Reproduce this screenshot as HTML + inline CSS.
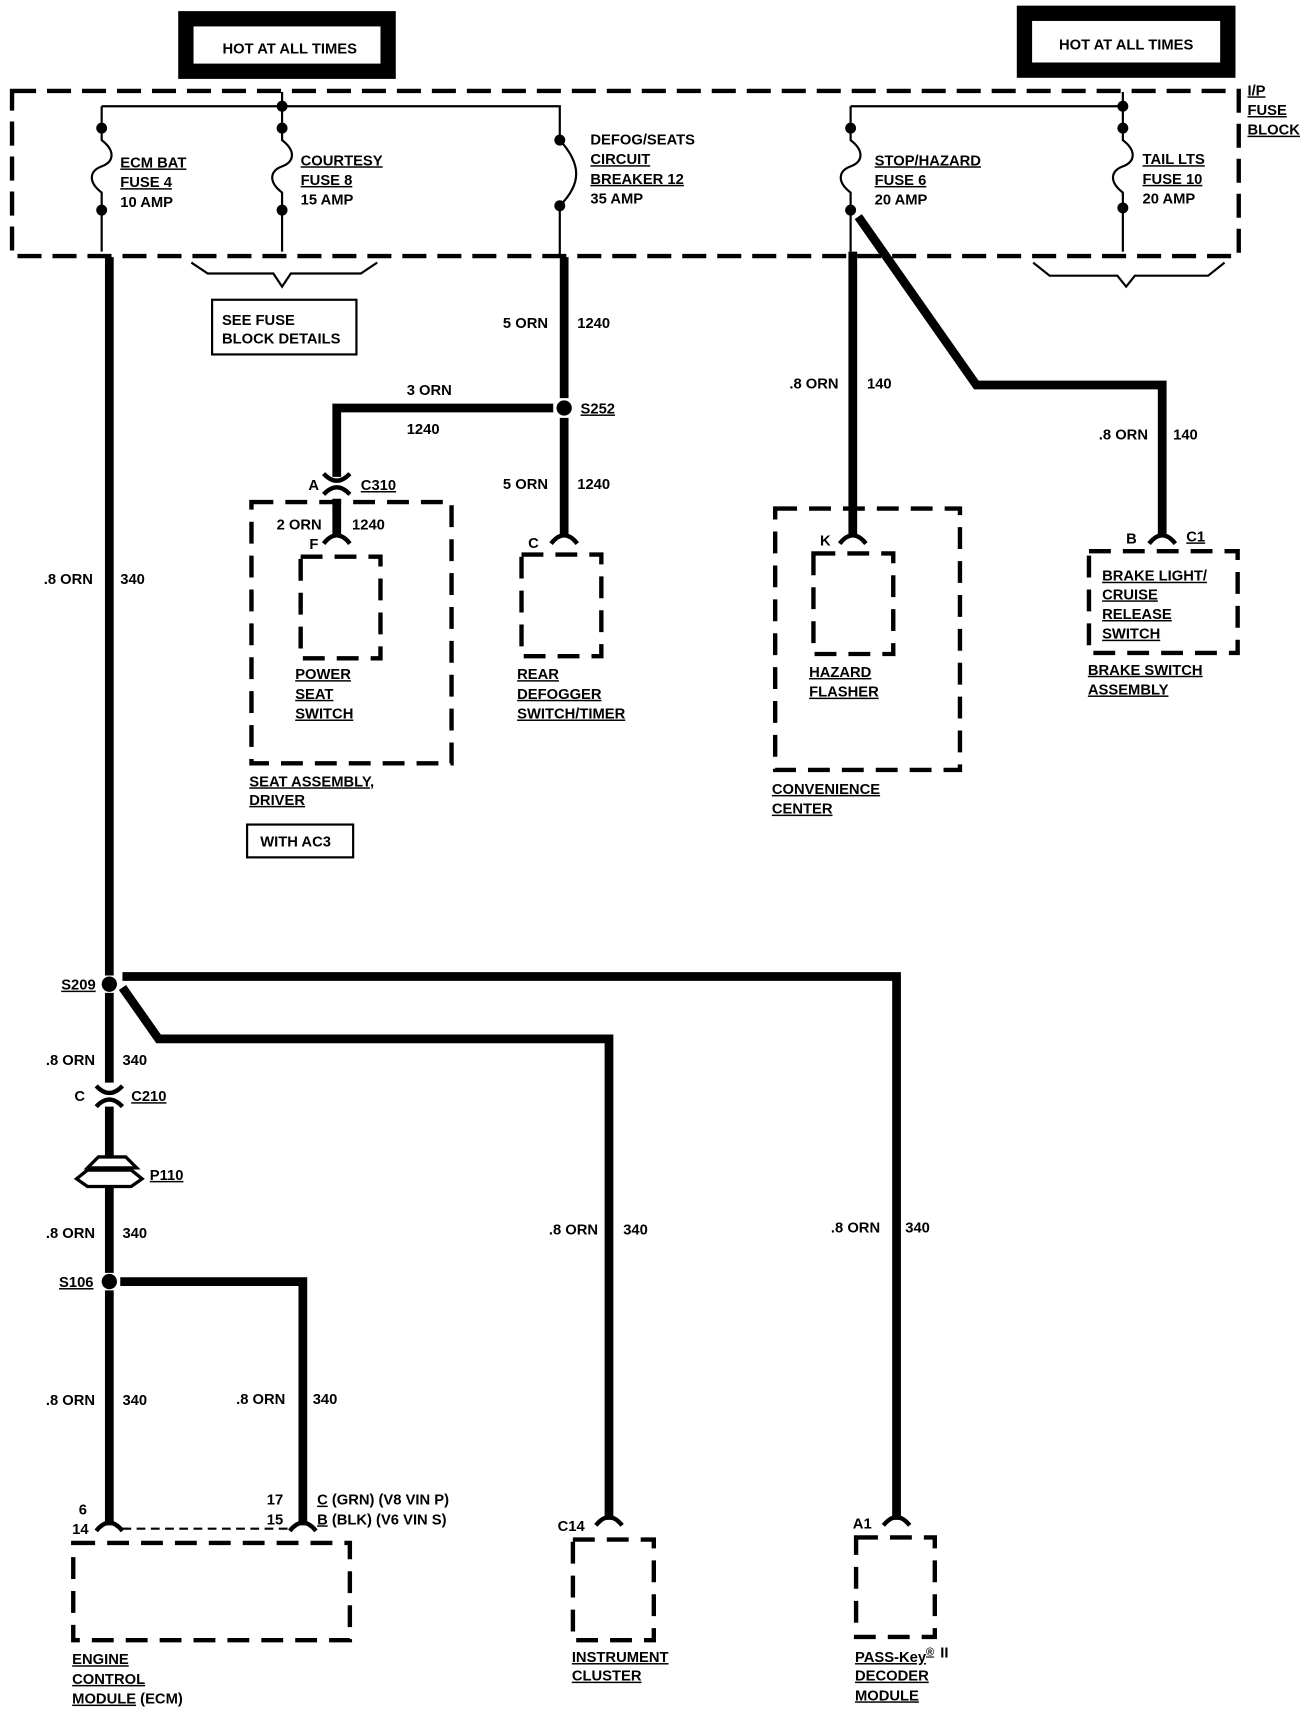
<!DOCTYPE html>
<html><head><meta charset="utf-8"><style>
html,body{margin:0;padding:0;background:#fff;}
svg{display:block;}
text{font-family:"Liberation Sans",sans-serif;font-weight:bold;font-size:13.5px;fill:#000;}
.u{text-decoration:underline;}
</style></head><body>
<svg width="1312" height="1718" viewBox="0 0 1200 1571" xmlns="http://www.w3.org/2000/svg">
<g fill="none" stroke="#000">
<!-- HOT boxes -->
<rect x="170" y="17" width="185" height="48" stroke-width="14"/>
<rect x="937" y="12" width="186" height="52" stroke-width="14"/>
<!-- fuse block dashed -->
<rect x="11" y="83" width="1122" height="151" stroke-width="4" stroke-dasharray="22,10"/>
<!-- buses -->
<path d="M93 97 H512 V128 M512 188 V235" stroke-width="2"/>
<path d="M778 97 H1027" stroke-width="2"/>
<path d="M258 84 V97 M1027 84 V97" stroke-width="2"/>
<!-- fuses -->
<g stroke-width="2">
<path d="M93 97 V128 C106 138,104 148,93 152 C82 156,80 166,93 176 V230"/>
<path d="M258 97 V128 C271 138,269 148,258 152 C247 156,245 166,258 176 V230"/>
<path d="M778 97 V128 C791 138,789 148,778 152 C767 156,765 166,778 176 V230"/>
<path d="M1027 97 V128 C1040 138,1038 148,1027 152 C1016 156,1014 166,1027 176 V230"/>
<path d="M512 128 C532 150,532 168,512 188"/>
<!-- braces -->
<path d="M175 240 L190 250 H250 L258 262 L266 250 H330 L345 240"/>
<path d="M945 240 L960 252 H1022 L1030 262 L1038 252 H1105 L1120 240"/>
</g>
<rect x="194" y="274" width="132" height="50" stroke-width="2"/>
<rect x="226" y="754" width="97" height="30" stroke-width="2"/>
<!-- thick wires -->
<g stroke-width="8" stroke-linejoin="miter">
<path d="M100 235 V892"/>
<path d="M516 235 V364 M516 382 V490"/>
<path d="M506 373 H308 V436"/>
<path d="M308 456 V490"/>
<path d="M780 230 V490"/>
<path d="M785 198 L893 352 H1063 V490"/>
<path d="M112 893 H820 V1390"/>
<path d="M112 903 L145 950 H557 V1390"/>
<path d="M100 908 V990 M100 1012 V1164 M100 1180 V1395"/>
<path d="M110 1172 H277 V1395"/>
</g>
<!-- connector forks -->
<g stroke-width="4">
<path d="M88 1400 Q100 1385 112 1400"/>
<path d="M265 1400 Q277 1385 289 1400"/>
<path d="M545 1395 Q557 1380 569 1395"/>
<path d="M808 1395 Q820 1380 832 1395"/>
<path d="M504 497 Q516 482 528 497"/>
<path d="M768 497 Q780 482 792 497"/>
<path d="M1051 497 Q1063 482 1075 497"/>
<path d="M296 497 Q308 482 320 497"/>
<path d="M296 433 Q308 446 320 433 M296 452 Q308 439 320 452"/>
<path d="M88 993 Q100 1006 112 993 M88 1012 Q100 999 112 1012"/>
</g>
<path d="M112 1398 H265" stroke-width="2" stroke-dasharray="8,5"/>
<!-- P110 -->
<path d="M80 1068 L90 1058 H115 L125 1068 Z M70 1078 L80 1070 H120 L130 1078 L120 1085 H80 Z" stroke-width="3" fill="#fff"/>
<!-- component dashed boxes -->
<g stroke-width="4" stroke-dasharray="20,11">
<rect x="230" y="459" width="183" height="239"/>
<rect x="275" y="509" width="73" height="93"/>
<rect x="477" y="507" width="73" height="93"/>
<rect x="709" y="465" width="169" height="239"/>
<rect x="744" y="506" width="73" height="92"/>
<rect x="996" y="504" width="136" height="93"/>
<rect x="67" y="1411" width="253" height="89"/>
<rect x="524" y="1408" width="74" height="92"/>
<rect x="783" y="1406" width="72" height="91"/>
</g>
</g>
<!-- dots -->
<g fill="#000">
<circle cx="93" cy="117" r="5"/><circle cx="93" cy="192" r="5"/>
<circle cx="258" cy="97" r="5"/><circle cx="258" cy="117" r="5"/><circle cx="258" cy="192" r="5"/>
<circle cx="512" cy="128" r="5"/><circle cx="512" cy="188" r="5"/>
<circle cx="778" cy="117" r="5"/><circle cx="778" cy="192" r="5"/>
<circle cx="1027" cy="97" r="5"/><circle cx="1027" cy="117" r="5"/><circle cx="1027" cy="190" r="5"/>
<circle cx="516" cy="373" r="7"/>
<circle cx="100" cy="900" r="7"/>
<circle cx="100" cy="1172" r="7"/>
</g>
<!-- text -->
<text x="265" y="49" text-anchor="middle">HOT AT ALL TIMES</text>
<text x="1030" y="45" text-anchor="middle">HOT AT ALL TIMES</text>
<text x="110" y="153" class="u">ECM BAT</text><text x="110" y="171" class="u">FUSE 4</text><text x="110" y="189">10 AMP</text>
<text x="275" y="151" class="u">COURTESY</text><text x="275" y="169" class="u">FUSE 8</text><text x="275" y="187">15 AMP</text>
<text x="540" y="132">DEFOG/SEATS</text><text x="540" y="150" class="u">CIRCUIT</text><text x="540" y="168" class="u">BREAKER 12</text><text x="540" y="186">35 AMP</text>
<text x="800" y="151" class="u">STOP/HAZARD</text><text x="800" y="169" class="u">FUSE 6</text><text x="800" y="187">20 AMP</text>
<text x="1045" y="150" class="u">TAIL LTS</text><text x="1045" y="168" class="u">FUSE 10</text><text x="1045" y="186">20 AMP</text>
<text x="1141" y="87" class="u">I/P</text><text x="1141" y="105" class="u">FUSE</text><text x="1141" y="123" class="u">BLOCK</text>
<text x="203" y="297">SEE FUSE</text><text x="203" y="314">BLOCK DETAILS</text>
<text x="460" y="300">5 ORN</text><text x="528" y="300">1240</text>
<text x="372" y="361">3 ORN</text><text x="372" y="397">1240</text>
<text x="531" y="378" class="u">S252</text>
<text x="460" y="447">5 ORN</text><text x="528" y="447">1240</text>
<text x="282" y="448">A</text><text x="330" y="448" class="u">C310</text>
<text x="253" y="484">2 ORN</text><text x="322" y="484">1240</text>
<text x="283" y="502">F</text><text x="483" y="501">C</text>
<text x="270" y="621" class="u">POWER</text><text x="270" y="639" class="u">SEAT</text><text x="270" y="657" class="u">SWITCH</text>
<text x="473" y="621" class="u">REAR</text><text x="473" y="639" class="u">DEFOGGER</text><text x="473" y="657" class="u">SWITCH/TIMER</text>
<text x="228" y="719" class="u">SEAT ASSEMBLY,</text><text x="228" y="736" class="u">DRIVER</text>
<text x="238" y="774">WITH AC3</text>
<text x="722" y="355">.8 ORN</text><text x="793" y="355">140</text>
<text x="1005" y="402">.8 ORN</text><text x="1073" y="402">140</text>
<text x="750" y="499">K</text><text x="1030" y="497">B</text><text x="1085" y="495" class="u">C1</text>
<text x="740" y="619" class="u">HAZARD</text><text x="740" y="637" class="u">FLASHER</text>
<text x="1008" y="531" class="u">BRAKE LIGHT/</text><text x="1008" y="548" class="u">CRUISE</text><text x="1008" y="566" class="u">RELEASE</text><text x="1008" y="584" class="u">SWITCH</text>
<text x="995" y="617" class="u">BRAKE SWITCH</text><text x="995" y="635" class="u">ASSEMBLY</text>
<text x="706" y="726" class="u">CONVENIENCE</text><text x="706" y="744" class="u">CENTER</text>
<text x="40" y="534">.8 ORN</text><text x="110" y="534">340</text>
<text x="56" y="905" class="u">S209</text>
<text x="42" y="974">.8 ORN</text><text x="112" y="974">340</text>
<text x="68" y="1007">C</text><text x="120" y="1007" class="u">C210</text>
<text x="137" y="1079" class="u">P110</text>
<text x="42" y="1132">.8 ORN</text><text x="112" y="1132">340</text>
<text x="54" y="1177" class="u">S106</text>
<text x="42" y="1285">.8 ORN</text><text x="112" y="1285">340</text>
<text x="216" y="1284">.8 ORN</text><text x="286" y="1284">340</text>
<text x="502" y="1129">.8 ORN</text><text x="570" y="1129">340</text>
<text x="760" y="1127">.8 ORN</text><text x="828" y="1127">340</text>
<text x="72" y="1385">6</text><text x="66" y="1403">14</text>
<text x="244" y="1376">17</text><text x="244" y="1394">15</text>
<text x="290" y="1376"><tspan class="u">C</tspan> (GRN) (V8  VIN P)</text>
<text x="290" y="1394"><tspan class="u">B</tspan> (BLK) (V6  VIN S)</text>
<text x="510" y="1400">C14</text><text x="780" y="1398">A1</text>
<text x="66" y="1522" class="u">ENGINE</text><text x="66" y="1540" class="u">CONTROL</text><text x="66" y="1558"><tspan class="u">MODULE</tspan> (ECM)</text>
<text x="523" y="1520" class="u">INSTRUMENT</text><text x="523" y="1537" class="u">CLUSTER</text>
<text x="782" y="1520" class="u">PASS-Key<tspan font-size="10" dy="-6">®</tspan></text><text x="860" y="1516">II</text>
<text x="782" y="1537" class="u">DECODER</text><text x="782" y="1555" class="u">MODULE</text>
</svg>
</body></html>
